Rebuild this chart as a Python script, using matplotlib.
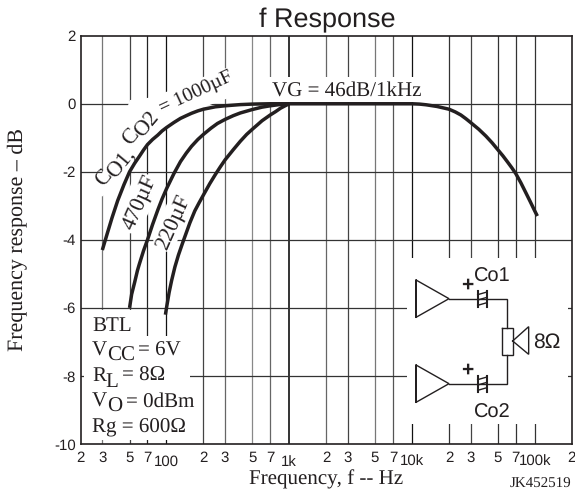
import matplotlib
matplotlib.use("Agg")
import matplotlib.pyplot as plt
from matplotlib.patches import Polygon
from matplotlib.transforms import Affine2D

plt.rcParams["text.hinting"] = "no_hinting"
plt.rcParams["text.hinting_factor"] = 1

W, H = 575, 492
INK = "#231f20"
SERIF = "Liberation Serif"
SANS = "Liberation Sans"

# ---- data -------------------------------------------------------------
freq_1000 = [30, 33, 36, 40, 45, 50, 55, 60, 65, 70, 77, 85, 92, 100, 115, 130, 145, 160, 180, 200, 250, 300, 400, 500, 700, 1000]
resp_1000 = [-4.3, -3.8, -3.35, -2.85, -2.38, -2.0, -1.75, -1.55, -1.36, -1.2, -1.05, -0.92, -0.8, -0.7, -0.55, -0.43, -0.35, -0.28, -0.21, -0.16, -0.09, -0.06, -0.025, -0.01, 0, 0]
freq_470 = [50, 52, 55, 58, 60, 65, 70, 77, 85, 92, 100, 115, 130, 145, 160, 180, 200, 230, 260, 300, 350, 400, 500, 600, 700, 850, 1000]
resp_470 = [-6, -5.6, -5.25, -4.9, -4.72, -4.32, -4, -3.55, -3.12, -2.8, -2.5, -2.05, -1.7, -1.45, -1.25, -1.05, -0.9, -0.72, -0.58, -0.46, -0.35, -0.27, -0.17, -0.1, -0.06, -0.02, 0]
freq_220 = [98, 100, 105, 110, 117, 125, 135, 143, 155, 170, 185, 200, 225, 250, 275, 300, 350, 400, 450, 500, 550, 600, 700, 775, 850, 925, 1000]
resp_220 = [-6.2, -6.0, -5.55, -5.2, -4.8, -4.45, -4.1, -3.85, -3.5, -3.15, -2.9, -2.68, -2.35, -2.08, -1.85, -1.65, -1.35, -1.1, -0.9, -0.75, -0.62, -0.5, -0.33, -0.23, -0.13, -0.06, 0]
freq_high = [1000, 10000, 11500, 13000, 16000, 20000, 22500, 25000, 27500, 30000, 35000, 40000, 45000, 50000, 55000, 60000, 65000, 70000, 77000, 85000, 92000, 100000, 105000]
resp_high = [0, 0, -0.01, -0.03, -0.08, -0.16, -0.24, -0.33, -0.44, -0.55, -0.75, -0.95, -1.15, -1.35, -1.53, -1.71, -1.88, -2.05, -2.32, -2.63, -2.88, -3.15, -3.3]

x_ticks = [20, 30, 50, 70, 100, 200, 300, 500, 700, 1000, 2000, 3000, 5000, 7000,
           10000, 20000, 30000, 50000, 70000, 100000, 200000]
x_labels = ["2", "3", "5", "7", "100", "2", "3", "5", "7", "1k", "2", "3", "5", "7",
            "10k", "2", "3", "5", "7", "100k", "2"]
x_grid_colors = ["none", "#777777", "#444444", "#222222", "#111111", "#444444", "#666666",
                 "#888888", "#666666", "#111111", "#666666", "#444444", "#777777", "#555555",
                 "#111111", "#333333", "#444444", "#333333", "#333333", "#333333", "none"]
y_ticks = [2, 0, -2, -4, -6, -8, -10]

# ---- figure -----------------------------------------------------------
fig = plt.figure(figsize=(W / 100, H / 100), dpi=100)
L, R, T_, B = 80.7, 571.7, 35.7, 444.0
ax = fig.add_axes([L / W, 1 - B / H, (R - L) / W, (B - T_) / H])
ax.set_xscale("log")
ax.set_xlim(20, 200000)
ax.set_ylim(-10, 2)
ax.minorticks_off()

for f, c in zip(x_ticks, x_grid_colors):
    if c != "none":
        ax.axvline(f, color=c, lw=0.9 if f != 1000 else 1.2, zorder=1)
for v in y_ticks[1:-1]:
    ax.axhline(v, color="#333333", lw=0.9, zorder=1)

ax.set_xticks(x_ticks, x_labels, fontfamily=SANS, fontsize=10.8, color=INK)
ax.set_yticks(y_ticks, [str(v) for v in y_ticks], fontfamily=SANS, fontsize=10.8, color=INK)
ax.tick_params(axis="both", length=0)
ax.tick_params(axis="x", pad=5)
ax.tick_params(axis="y", pad=3.5)
for tick, lab in zip(ax.xaxis.get_major_ticks(), x_labels):
    if len(lab) > 1:
        tick.set_pad(8)
for s in ax.spines.values():
    s.set_color(INK)
    s.set_linewidth(1.2)
    s.set_zorder(6)

for fx, ry in [(freq_1000, resp_1000), (freq_470, resp_470), (freq_220, resp_220), (freq_high, resp_high)]:
    ax.plot(fx, ry, color=INK, lw=2.5, solid_capstyle="butt", solid_joinstyle="round", zorder=4)

# ---- pixel-space annotation helpers -----------------------------------
px = Affine2D().scale(1, -1).translate(0, H)

def T(x, y, s, size=15, fam=SERIF, rot=0, ha="left", zorder=5, **kw):
    fig.text(x, y, s, transform=px, fontsize=size, family=fam, rotation=rot, ha=ha, va="baseline",
             rotation_mode="anchor", color=INK, zorder=zorder, **kw)

def mask(pts):
    ax.add_patch(Polygon(pts, closed=True, fc="white", ec="none", transform=px, zorder=2))

z1 = lambda x, y: (60 + x / 3, 20 + y / 3)
z3 = lambda x, y: (400 + x / 3, 260 + y / 3)

# grid masks
mask([z1(*p) for p in [(88, 470), (126, 460), (210, 240), (262, 234), (318, 216), (430, 171), (493, 145),
                       (530, 145), (530, 225), (441, 258), (285, 345), (215, 455), (126, 530), (95, 510)]])
mask([z1(*p) for p in [(225, 460), (285, 465), (285, 540), (235, 640), (175, 640), (175, 590)]])
mask([z1(*p) for p in [(335, 520), (390, 530), (385, 600), (335, 695), (280, 695), (280, 640)]])
mask([(268, 77), (424, 77), (424, 102), (268, 102)])
mask([(84, 310), (142, 310), (142, 336), (190, 336), (190, 440), (84, 440)])
mask([(407, 258), (568, 258), (568, 424), (407, 424)])

# curve labels
T(*z1(128, 500), "C", size=16, rot=50)
T(*z1(162, 477), "O1,", size=16, rot=50)
T(*z1(210, 379), "C", size=16, rot=50)
T(*z1(246, 355), "O2", size=16, rot=50)
T(*z1(306, 279), "= 1000µF", size=14.5, rot=25)
T(*z1(219, 633), "470µF", size=16, rot=66)
T(*z1(321, 692), "220µF", size=16, rot=66)
T(272, 96, "VG = 46dB/1kHz", size=15)

# conditions block
T(92, 331, "BTL")
T(92, 356, "V"); T(107, 361, "CC"); T(138, 356, "= 6V")
T(92, 381, "R"); T(105, 387, "L"); T(122, 381, "= 8Ω")
T(92, 407, "V"); T(107, 412, "O"); T(126, 407, "= 0dBm")
T(92, 432, "Rg = 600Ω")

# labels
fig.text(327, 27.5, "f Response", transform=px, fontsize=19.5, family=SANS, ha="center", va="baseline", color=INK)
T(326, 484.5, "Frequency, f -- Hz", ha="center")
T(571, 488, "JK452519", size=11, ha="right")
fig.text(18, 239, "Frequency response – dB", transform=px, fontsize=15.5, family=SERIF, rotation=90,
         ha="center", va="center", color=INK)

# schematic
def sline(pts, lw=1.0):
    xs, ys = zip(*[z3(*p) for p in pts])
    ax.plot(xs, ys, transform=px, color=INK, lw=lw, zorder=5, clip_on=False, solid_joinstyle="miter")

for dy in (0, 255):
    sline([(48, 60 + dy), (48, 172 + dy), (147, 116 + dy), (48, 60 + dy), (48, 172 + dy)])
    sline([(233, 92 + dy), (233, 142 + dy)], 1.5)
    sline([(261, 92 + dy), (261, 142 + dy)], 1.5)
    for k in (0, 16, 32):
        sline([(233, 104 + k + dy), (261, 96 + k + dy)], 1.0)
    T(*z3(183, 92 + dy), "+", size=15, fam=SANS, weight="bold")
sline([(147, 116), (322, 116), (322, 203)])
sline([(322, 285), (322, 371), (147, 371)])
sline([(307, 203), (338, 203), (338, 285), (307, 285), (307, 203)])
sline([(338, 243), (386, 200), (386, 283), (338, 243)])
T(474, 282, "Co1", fam=SANS, size=14.5)
T(474, 418, "Co2", fam=SANS, size=14.5)
T(533, 347.5, "8Ω", fam=SANS, size=15)

fig.savefig("out.png", dpi=100)
